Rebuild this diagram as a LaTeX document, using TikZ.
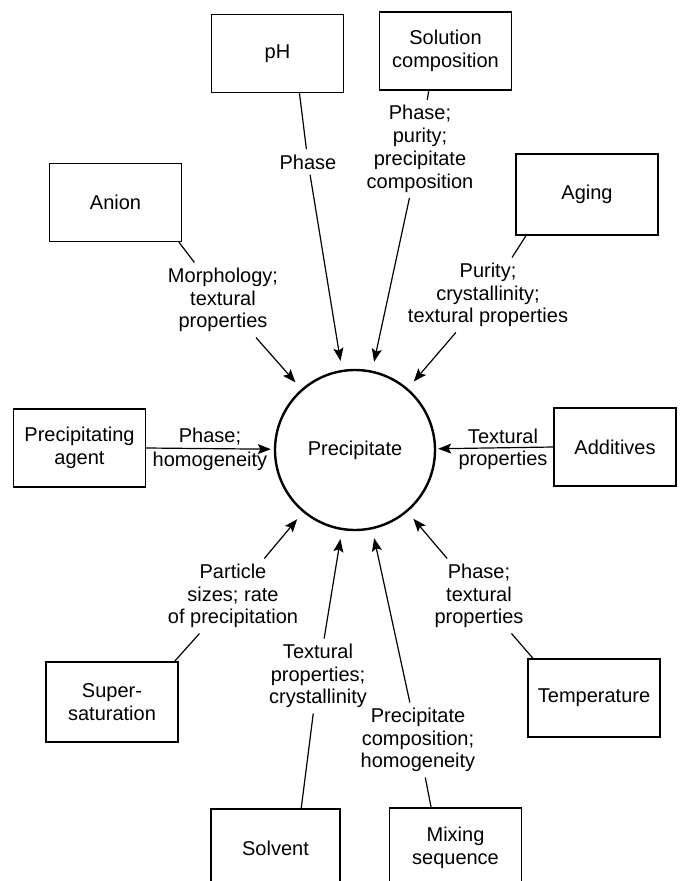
\documentclass[tikz,border=0pt]{standalone}
\usepackage{fontspec}
\setmainfont{Liberation Sans}
\usetikzlibrary{arrows.meta}
\tikzset{
  factor/.style={draw,line width=0.6pt,minimum width=66pt,minimum height=39pt,align=center,font=\fontsize{10}{11.4}\selectfont},
  effect/.style={align=center,inner sep=2.5pt,font=\fontsize{10}{11.4}\selectfont},
  hub/.style={circle,draw,line width=1.2pt,minimum size=80pt,inner sep=0pt,font=\fontsize{10}{11.4}\selectfont},
  link/.style={line width=0.6pt},
  arr/.style={-{Stealth[length=6.5pt,width=5pt,inset=1.3pt]},line width=0.6pt,shorten >=4.5pt}
}

\begin{document}
\begin{tikzpicture}[x=0.5pt,y=-0.5pt]
    \useasboundingbox (0,0) rectangle (679,881);
    \clip (0,0) rectangle (679,881);
    % the precipitate in the middle
    \node[hub] (prec) at (355,450) {Precipitate};
    % factors
    \node[factor] (ph) at (277.5,53.5) {pH};
    \node[factor] (solcomp) at (445.5,51) {Solution\\composition};
    \node[factor] (anion) at (115.5,202.5) {Anion};
    \node[factor,minimum width=71pt,minimum height=40.5pt] (aging) at (587,194.5) {Aging};
    \node[factor] (precag) at (79.5,448) {Precipitating\\agent};
    \node[factor,minimum width=61pt] (additives) at (615,447) {Additives};
    \node[factor,minimum height=40pt] (super) at (112,702) {Super-\\saturation};
    \node[factor] (temp) at (594,698) {Temperature};
    \node[factor,minimum width=64.5pt] (solvent) at (275.5,848) {Solvent};
    \node[factor,minimum height=40pt] (mixing) at (455.5,848) {Mixing\\sequence};
    % properties affected
    \node[effect] (phl) at (308,162) {Phase};
    \node[effect] (solcompl) at (420,149) {Phase;\\purity;\\precipitate\\composition};
    \node[effect] (anionl) at (223,300) {Morphology;\\textural\\properties};
    \node[effect] (agingl) at (488,295) {Purity;\\crystallinity;\\textural properties};
    \node[effect] (superl) at (233,596) {Particle\\sizes; rate\\of precipitation};
    \node[effect] (templ) at (479,596) {Phase;\\textural\\properties};
    \node[effect] (solventl) at (318,676) {Textural\\properties;\\crystallinity};
    \node[effect] (mixingl) at (418,740) {Precipitate\\composition;\\homogeneity};
    % connectors
    \draw[link] (ph.-61) -- (phl);
    \draw[arr] (phl) -- (prec);
    \draw[link] (solcomp.-113.5) -- (solcompl);
    \draw[arr] (solcompl) -- (prec);
    \draw[link] (anion.-32) -- (anionl);
    \draw[arr] (anionl) -- (prec);
    \draw[link] (aging.-146) -- (agingl);
    \draw[arr] (agingl) -- (prec);
    \draw[link] (super.33.7) -- (superl);
    \draw[arr] (superl) -- (prec);
    \draw[link] (temp.147.4) -- (templ);
    \draw[arr] (templ) -- (prec);
    \draw[link] (solvent.57) -- (solventl);
    \draw[arr] (solventl) -- (prec);
    \draw[link] (mixing.121.5) -- (mixingl);
    \draw[arr] (mixingl) -- (prec);
    \draw[arr,shorten >=1.5pt] (precag.east) -- node[effect,above,inner sep=1.5pt]{Phase;} node[effect,below,inner sep=1.5pt]{homogeneity} (prec);
    \draw[arr,shorten >=1pt] (additives.west) -- node[effect,above,pos=0.43,inner sep=1.5pt]{Textural} node[effect,below,pos=0.43,inner sep=1.5pt]{properties} (prec);
  \end{tikzpicture}
\end{document}
